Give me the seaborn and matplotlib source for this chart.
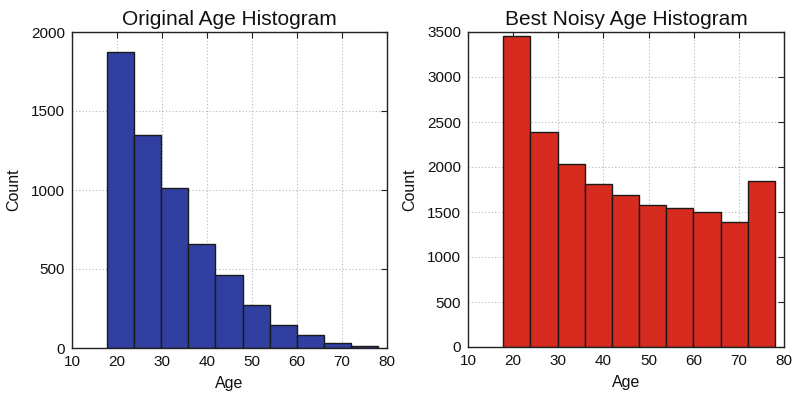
import numpy as np
import matplotlib
matplotlib.use("Agg")
import matplotlib.pyplot as plt
import seaborn as sns

sns.set_style("white")
plt.rcParams['font.family'] = ['Liberation Sans', 'DejaVu Sans']

bin_edges = [17.8, 23.82, 29.84, 35.86, 41.88, 47.9, 53.92, 59.94, 65.96, 71.98, 78.0]
bin_centers = [(a + b) / 2 for a, b in zip(bin_edges[:-1], bin_edges[1:])]
orig_counts = [1873, 1350, 1013, 656, 462, 275, 148, 80, 32, 11]
noisy_counts = [3460, 2386, 2037, 1816, 1691, 1581, 1544, 1496, 1393, 1849]

titles = ["Original Age Histogram", "Best Noisy Age Histogram"]
colors = ["#3140A0", "#D72B1F"]
ylims = [2000, 3500]
yticks = [[0, 500, 1000, 1500, 2000], [0, 500, 1000, 1500, 2000, 2500, 3000, 3500]]
xticks = [10, 20, 30, 40, 50, 60, 70, 80]

fig = plt.figure(figsize=(7.95, 3.94), dpi=100)
ax1 = fig.add_axes([72/795, 1 - 348/394, 315/795, 316/394])
ax2 = fig.add_axes([468/795, 1 - 347/394, 316/795, 315/394])

for ax, counts, title, color, ylim, yt in zip(
        [ax1, ax2], [orig_counts, noisy_counts], titles, colors, ylims, yticks):
    sns.histplot(x=bin_centers, weights=counts, bins=bin_edges, ax=ax,
                 color=color, alpha=1.0, edgecolor="#1a1a1a", linewidth=1.0)
    ax.set_xlim(10, 80)
    ax.set_ylim(0, ylim)
    ax.set_xticks(xticks)
    ax.set_yticks(yt)
    ax.grid(True, linestyle=(0, (1, 2)), color="#b8b8b8", linewidth=0.8)
    ax.set_axisbelow(True)
    ax.tick_params(direction="in", top=True, right=True, length=4,
                   labelsize=11, colors="#222222", labelcolor="#111111")
    ax.tick_params(axis="x", pad=5)
    ax.tick_params(axis="y", pad=5)
    for s in ax.spines.values():
        s.set_visible(True)
        s.set_color("#222222")
        s.set_linewidth(1.0)
    ax.set_title(title, fontsize=15, pad=5, color="#111111")
    ax.set_xlabel("Age", fontsize=11.5, labelpad=5, color="#111111")
    ax.set_ylabel("Count", fontsize=11.5, labelpad=7, color="#111111")

fig.savefig("out.png", dpi=100)
